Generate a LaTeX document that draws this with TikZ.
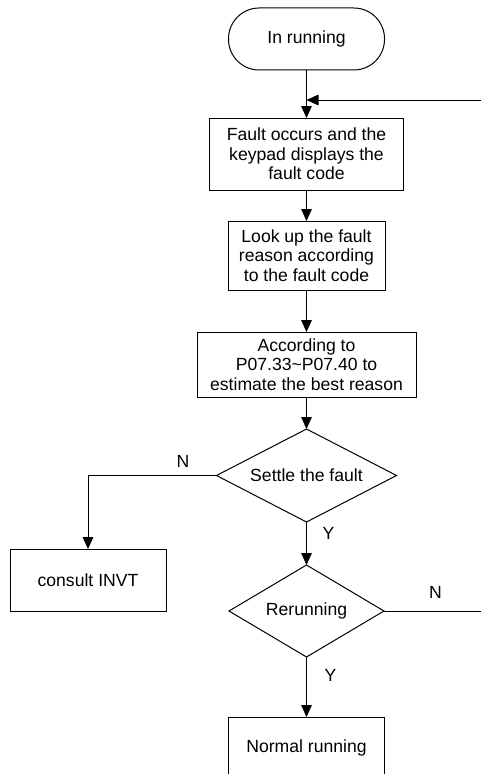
\documentclass[tikz,border=0pt]{standalone}
\usepackage{fontspec}
\setmainfont{Liberation Sans}
\usetikzlibrary{positioning}
\usetikzlibrary{arrows.meta}
\usetikzlibrary{shapes.geometric}
\tikzset{blk/.style = {draw, rectangle, inner sep = 0, outer sep = 0, align = center, font = \fontsize{13.2}{14.5}\selectfont}}
\tikzset{term/.style = {blk, rounded corners = 23pt}}
\tikzset{dec/.style = {blk, diamond}}
\tikzset{arr/.style = {-{Triangle[length = 9pt, width = 8pt]}}}
\tikzset{ynlab/.style = {inner sep = 0, font = \fontsize{13.2}{14.5}\selectfont}}
\tikzset{
  every picture/.style={
    every path/.style={line width = 0.75pt},
  }
}

\begin{document}
\begin{tikzpicture}[x=0.75pt, y=-0.75pt]
      \useasboundingbox (0,0) rectangle (481,774);
      \node[term, minimum width = 117pt, minimum height = 46.5pt] (run) at (306.5,39) {In running};
      \node[blk, minimum width = 145.5pt, minimum height = 54pt] (fault) at (306.5,154) {Fault occurs and the\\keypad displays the\\fault code};
      \node[blk, minimum width = 117.75pt, minimum height = 51.75pt] (look) at (306.5,255.5) {Look up the fault\\reason according\\to the fault code};
      \node[blk, minimum width = 164.25pt, minimum height = 48.75pt] (est) at (306.5,364.5) {According to\\P07.33\textasciitilde P07.40 to\\estimate the best reason};
      \node[dec, aspect = 1.94, minimum width = 135pt, minimum height = 69.75pt] (settle) at (306.5,475.5) {Settle the fault};
      \node[blk, minimum width = 117pt, minimum height = 46.5pt] (invt) at (88,580) {consult INVT};
      \node[dec, aspect = 1.68, minimum width = 116.25pt, minimum height = 69pt] (rerun) at (306.5,611) {Rerunning};
      \node[blk, minimum width = 117pt, minimum height = 46.5pt] (normal) at (306.5,748) {Normal running};
      \coordinate (back) at (481,100);
      \coordinate (rerunR) at (481,611);
      \draw[arr] (run) -- (fault);
      \draw[arr] (back) -- (back -| fault.north);
      \draw[arr] (fault) -- (look);
      \draw[arr] (look) -- (est);
      \draw[arr] (est) -- (settle.north);
      \draw[arr] (settle.west) -| node[ynlab, pos = 0.13, above = 5.8pt] {N} (invt.north);
      \draw[arr] (settle.south) -- node[ynlab, pos = 0.26, right = 11.7pt] {Y} (rerun.north);
      \draw (rerun.east) -- node[ynlab, pos = 0.53, above = 8.8pt] {N} (rerunR);
      \draw[arr] (rerun.south) -- node[ynlab, pos = 0.3, right = 13.2pt] {Y} (normal.north);
    \end{tikzpicture}
\end{document}
